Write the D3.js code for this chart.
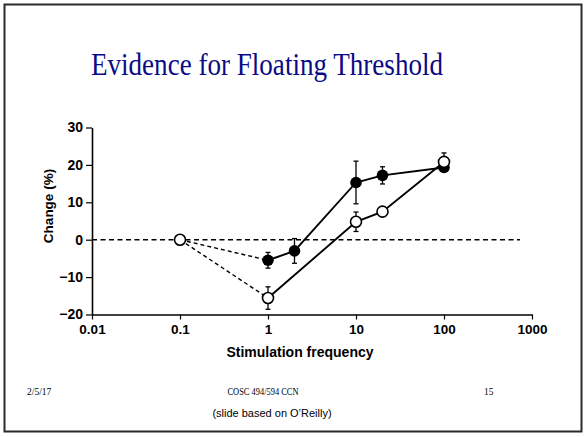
<!DOCTYPE html>
<html>
<head>
<meta charset="utf-8">
<script src="https://cdn.jsdelivr.net/npm/d3@7"></script>
<style>
  body { margin: 0; background: #fff; }
  svg { display: block; }
</style>
</head>
<body>
<div id="chart"></div>
<script>
// values
var freqs = [1, 2, 10, 20, 100];
var filledVals = [-5.5, -3, 15.3, 17.2, 19.3];
var filledErr = [2.1, 3.3, 5.7, 2.3, 0.8];
var openVals = [-15.6, 4.8, 7.5, 20.8];
var openFreqs = [1, 10, 20, 100];
var openErr = [3, 2.6, 0.8, 2.4];
var baseFreq = 0.1, baseVal = 0;
var xTicks = [0.01, 0.1, 1, 10, 100, 1000];
var yTicks = [-20, -10, 0, 10, 20, 30];

var W = 584, H = 437;

var svg = d3.select("#chart").append("svg")
  .attr("width", W)
  .attr("height", H);

// slide frame
svg.append("rect")
  .attr("x", 4.5).attr("y", 4.5)
  .attr("width", 577).attr("height", 427)
  .attr("fill", "none")
  .attr("stroke", "#2a2a2a")
  .attr("stroke-width", 2);

svg.append("text")
  .attr("x", 267).attr("y", 74.5)
  .attr("text-anchor", "middle")
  .attr("font-family", "Liberation Serif, Times New Roman, serif")
  .attr("font-size", 32.5)
  .attr("textLength", 352)
  .attr("lengthAdjust", "spacingAndGlyphs")
  .attr("fill", "#0a0a85")
  .text("Evidence for Floating Threshold");

var x = d3.scaleLog().domain([0.01, 1000]).range([92, 532]);
var y = d3.scaleLinear().domain([-20, 30]).range([314.5, 127.5]);

var font = "Liberation Sans, Arial, sans-serif";

// minor ticks
var xMinor = [];
for (var e = -2; e < 3; e++) {
  for (var m = 2; m < 10; m++) xMinor.push(m * Math.pow(10, e));
}
var yMinor = [-15, -5, 5, 15, 25];

var gx = svg.append("g").attr("transform", "translate(0," + y(-20) + ")");
gx.call(d3.axisBottom(x).tickValues(xMinor).tickSize(3).tickSizeOuter(0).tickFormat(""));
gx.call(d3.axisBottom(x).tickValues(xTicks).tickSize(5).tickSizeOuter(0).tickPadding(5)
  .tickFormat(function (d) { return d >= 1 ? d3.format("d")(d) : String(d); }));
gx.selectAll(".domain").attr("stroke-width", 1.6);
gx.selectAll("line").attr("stroke-width", 1.2);
gx.selectAll("text")
  .attr("font-family", font).attr("font-weight", "bold").attr("font-size", 13.5)
  .attr("fill", "#000");

var gy = svg.append("g").attr("transform", "translate(" + x(0.01) + ",0)");
gy.call(d3.axisLeft(y).tickValues(yMinor).tickSize(3).tickSizeOuter(0).tickFormat(""));
gy.call(d3.axisLeft(y).tickValues(yTicks).tickSize(6).tickSizeOuter(0).tickPadding(3));
gy.selectAll(".domain").attr("stroke-width", 1.6);
gy.selectAll("line").attr("stroke-width", 1.2);
gy.selectAll("text")
  .attr("font-family", font).attr("font-weight", "bold").attr("font-size", 14)
  .attr("fill", "#000");

svg.selectAll(".domain").attr("stroke", "#000");

// axis titles
svg.append("text")
  .attr("x", 300).attr("y", 357)
  .attr("text-anchor", "middle")
  .attr("font-family", font).attr("font-weight", "bold").attr("font-size", 14)
  .text("Stimulation frequency");

svg.append("text")
  .attr("transform", "translate(53,206) rotate(-90)")
  .attr("text-anchor", "middle")
  .attr("font-family", font).attr("font-weight", "bold").attr("font-size", 13.5)
  .text("Change (%)");

// zero reference line
svg.append("line")
  .attr("x1", x(0.01)).attr("x2", x(730))
  .attr("y1", y(0)).attr("y2", y(0))
  .attr("stroke", "#000").attr("stroke-width", 1.4)
  .attr("stroke-dasharray", "5,3.5");

var filled = freqs.map(function (f, i) { return { f: f, v: filledVals[i], e: filledErr[i] }; });
var open = openFreqs.map(function (f, i) { return { f: f, v: openVals[i], e: openErr[i] }; });

var line = d3.line()
  .x(function (d) { return x(d.f); })
  .y(function (d) { return y(d.v); });

// dashed links from the 0.1 Hz point
[filled[0], open[0]].forEach(function (d) {
  svg.append("path")
    .attr("d", line([{ f: baseFreq, v: baseVal }, d]))
    .attr("fill", "none").attr("stroke", "#000")
    .attr("stroke-width", 1.4).attr("stroke-dasharray", "4,3");
});

[filled, open].forEach(function (s) {
  svg.append("path")
    .attr("d", line(s))
    .attr("fill", "none").attr("stroke", "#000")
    .attr("stroke-width", 1.9);
});

function errorBars(data) {
  var g = svg.append("g").attr("stroke", "#000").attr("stroke-width", 1.3);
  g.selectAll(".v").data(data).enter().append("line")
    .attr("x1", function (d) { return x(d.f); })
    .attr("x2", function (d) { return x(d.f); })
    .attr("y1", function (d) { return y(d.v - d.e); })
    .attr("y2", function (d) { return y(d.v + d.e); });
  [-1, 1].forEach(function (s) {
    g.selectAll(".c" + s).data(data).enter().append("line")
      .attr("x1", function (d) { return x(d.f) - 2.5; })
      .attr("x2", function (d) { return x(d.f) + 2.5; })
      .attr("y1", function (d) { return y(d.v + s * d.e); })
      .attr("y2", function (d) { return y(d.v + s * d.e); });
  });
}

errorBars(filled);
errorBars(open);

svg.append("g").selectAll("circle")
  .data(filled).enter().append("circle")
  .attr("cx", function (d) { return x(d.f); })
  .attr("cy", function (d) { return y(d.v); })
  .attr("r", 5.8)
  .attr("fill", "#000");

svg.append("g").selectAll("circle")
  .data([{ f: baseFreq, v: baseVal }].concat(open)).enter().append("circle")
  .attr("cx", function (d) { return x(d.f); })
  .attr("cy", function (d) { return y(d.v); })
  .attr("r", 5.5)
  .attr("fill", "#fff")
  .attr("stroke", "#000")
  .attr("stroke-width", 1.6);

// footer
var serif = "Liberation Serif, Times New Roman, serif";
svg.append("text").attr("x", 27).attr("y", 395)
  .attr("font-family", serif).attr("font-size", 9.5).text("2/5/17");
svg.append("text").attr("x", 263).attr("y", 395).attr("text-anchor", "middle")
  .attr("font-family", serif).attr("font-size", 9.5)
  .attr("textLength", 71).attr("lengthAdjust", "spacingAndGlyphs")
  .text("COSC 494/594 CCN");
svg.append("text").attr("x", 484).attr("y", 395)
  .attr("font-family", serif).attr("font-size", 9.5).text("15");
svg.append("text").attr("x", 272).attr("y", 416.5).attr("text-anchor", "middle")
  .attr("font-family", font).attr("font-size", 11)
  .text("(slide based on O\u2019Reilly)");
</script>
</body>
</html>
